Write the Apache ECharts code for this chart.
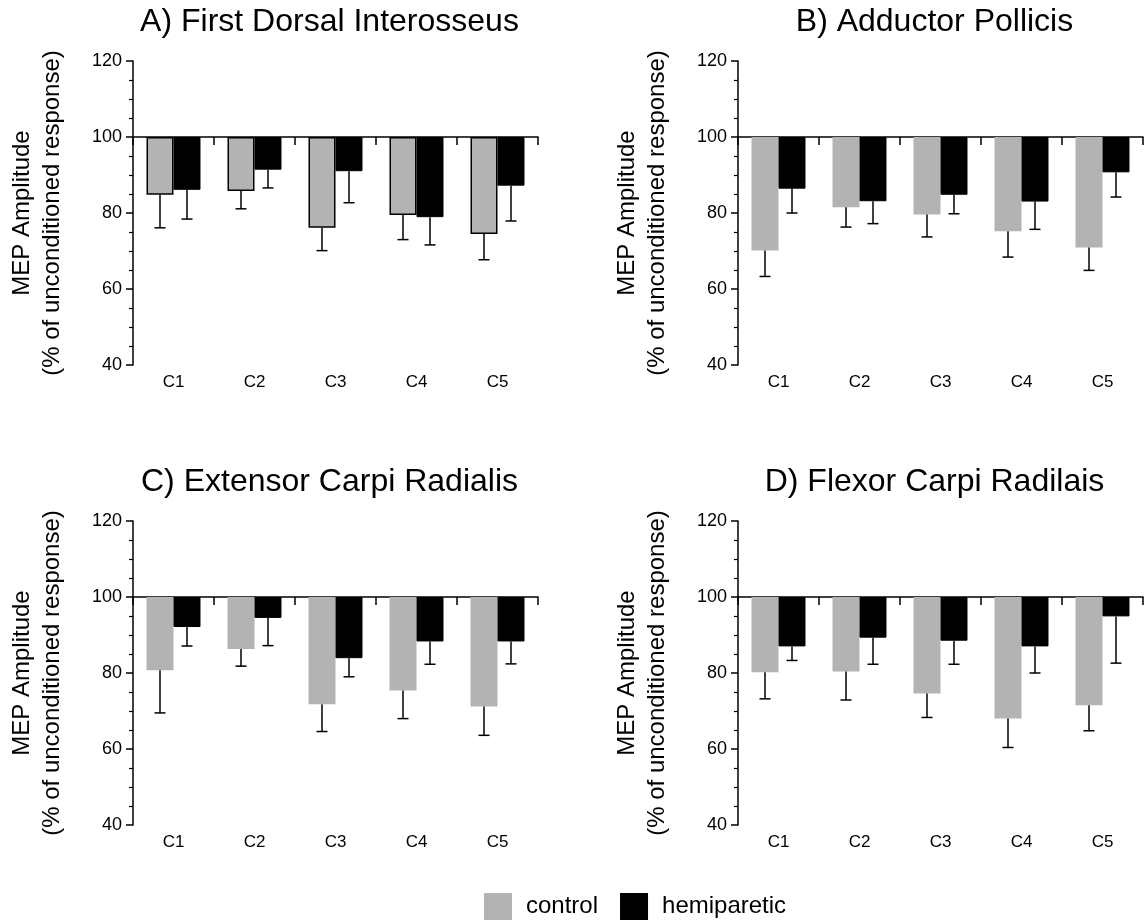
<!DOCTYPE html>
<html>
<head>
<meta charset="utf-8">
<script src="https://cdn.jsdelivr.net/npm/echarts@6/dist/echarts.min.js"></script>
<style>
  html, body { margin: 0; padding: 0; background: #fff; }
  #chart { width: 1147px; height: 920px; }
</style>
</head>
<body>
<div id="chart"></div>
<script>
// Conditioning positions
const categories = ['C1', 'C2', 'C3', 'C4', 'C5'];

// Y axis: MEP amplitude as % of the unconditioned response
const yTickLabels = [40, 60, 80, 100, 120];
const baseline = 100; // bars hang from the unconditioned level

const panelTitles = [
  'A) First Dorsal Interosseus',
  'B) Adductor Pollicis',
  'C) Extensor Carpi Radialis',
  'D) Flexor Carpi Radilais'
];

// A) First Dorsal Interosseus
const fdiControl = [84.8, 85.8, 76.1, 79.5, 74.5];
const fdiControlErr = [8.7, 4.7, 6.0, 6.5, 6.8];
const fdiHemi = [86.1, 91.4, 91.0, 78.9, 87.2];
const fdiHemiErr = [7.7, 4.8, 8.3, 7.3, 9.3];

// B) Adductor Pollicis
const apControl = [70.1, 81.5, 79.6, 75.2, 70.9];
const apControlErr = [6.8, 5.2, 5.9, 6.8, 6.0];
const apHemi = [86.4, 83.1, 84.8, 83.0, 90.7];
const apHemiErr = [6.4, 5.9, 5.0, 7.3, 6.5];

// C) Extensor Carpi Radialis
const ecrControl = [80.7, 86.3, 71.8, 75.4, 71.2];
const ecrControlErr = [11.2, 4.5, 7.2, 7.4, 7.6];
const ecrHemi = [92.1, 94.5, 83.9, 88.3, 88.3];
const ecrHemiErr = [5.0, 7.3, 4.9, 6.0, 5.9];

// D) Flexor Carpi Radialis
const fcrControl = [80.2, 80.4, 74.6, 68.0, 71.5];
const fcrControlErr = [7.0, 7.5, 6.3, 7.6, 6.7];
const fcrHemi = [87.0, 89.3, 88.5, 87.0, 94.9];
const fcrHemiErr = [3.7, 7.0, 6.2, 7.0, 12.3];

const panelData = [
  { control: fdiControl, controlErr: fdiControlErr, hemi: fdiHemi, hemiErr: fdiHemiErr, outlined: true },
  { control: apControl, controlErr: apControlErr, hemi: apHemi, hemiErr: apHemiErr, outlined: false },
  { control: ecrControl, controlErr: ecrControlErr, hemi: ecrHemi, hemiErr: ecrHemiErr, outlined: false },
  { control: fcrControl, controlErr: fcrControlErr, hemi: fcrHemi, hemiErr: fcrHemiErr, outlined: false }
];

// ---- layout & style ----
const FONT = 'Liberation Sans, Arial, Helvetica, sans-serif';
const GRAY = '#b3b3b3';
const BLACK = '#000000';
const plotW = 405, plotH = 304;
const gridPos = [
  { left: 133, top: 61 },
  { left: 738, top: 61 },
  { left: 133, top: 521 },
  { left: 738, top: 521 }
];

// Whisker drawn below the bar end (one-sided, mean - SE)
function errorBar(sign) {
  return function (params, api) {
    const cat = api.value(0);
    const end = api.value(1);
    const low = api.value(2);
    const band = api.size([1, 0])[0];
    const dx = sign * band / 6;
    const p1 = api.coord([cat, end]);
    const p2 = api.coord([cat, low]);
    const x = p1[0] + dx;
    const cap = 5.5;
    const st = { stroke: BLACK, lineWidth: 1.5 };
    return {
      type: 'group',
      children: [
        { type: 'line', shape: { x1: x, y1: p1[1], x2: x, y2: p2[1] }, style: st },
        { type: 'line', shape: { x1: x - cap, y1: p2[1], x2: x + cap, y2: p2[1] }, style: st }
      ]
    };
  };
}

const grids = [], xAxes = [], yAxes = [], series = [], titles = [];
const yMin = yTickLabels[0] - baseline;
const yMax = yTickLabels[yTickLabels.length - 1] - baseline;
const yStep = yTickLabels[1] - yTickLabels[0];

panelData.forEach((pd, i) => {
  const g = gridPos[i];
  grids.push({ left: g.left, top: g.top, width: plotW, height: plotH, containLabel: false });

  titles.push({
    text: panelTitles[i],
    left: g.left + plotW / 2 - 6,
    top: g.top - 55,
    textAlign: 'center',
    padding: 0,
    textStyle: { fontFamily: FONT, fontSize: 32, fontWeight: 'normal', color: BLACK }
  });

  // axis line at the 100 % level with boundary ticks
  xAxes.push({
    type: 'category', gridIndex: i, data: categories, position: 'bottom',
    axisLine: { onZero: true, lineStyle: { color: BLACK, width: 1.5 } },
    axisTick: { show: true, length: 8, lineStyle: { color: BLACK, width: 1.5 } },
    axisLabel: { show: false },
    splitLine: { show: false }
  });
  // category labels under the plot
  xAxes.push({
    type: 'category', gridIndex: i, data: categories, position: 'bottom',
    axisLine: { show: false, onZero: false },
    axisTick: { show: false },
    axisLabel: { show: true, margin: 9, fontFamily: FONT, fontSize: 17, color: BLACK },
    splitLine: { show: false }
  });

  yAxes.push({
    type: 'value', gridIndex: i,
    min: yMin, max: yMax, interval: yStep,
    name: 'MEP Amplitude\n(% of unconditioned response)',
    nameLocation: 'middle', nameRotate: 90, nameGap: 66,
    nameTextStyle: { fontFamily: FONT, fontSize: 24, color: BLACK, lineHeight: 30 },
    axisLine: { show: true, onZero: false, lineStyle: { color: BLACK, width: 1.5 } },
    axisTick: { show: true, length: 7, lineStyle: { color: BLACK, width: 1.5 } },
    minorTick: { show: true, splitNumber: 4, length: 4, lineStyle: { color: BLACK, width: 1.2 } },
    axisLabel: {
      margin: 11, fontFamily: FONT, fontSize: 18, color: BLACK,
      formatter: v => String(v + baseline)
    },
    splitLine: { show: false }
  });

  const xi = i * 2;
  const border = pd.outlined ? { borderColor: BLACK, borderWidth: 1.5 } : { borderWidth: 0 };
  series.push({
    name: 'control', type: 'bar', xAxisIndex: xi, yAxisIndex: i,
    barWidth: '33.33%', barGap: '0%',
    itemStyle: Object.assign({ color: GRAY }, border),
    data: pd.control.map(v => v - baseline), z: 2
  });
  series.push({
    name: 'hemiparetic', type: 'bar', xAxisIndex: xi, yAxisIndex: i,
    barWidth: '33.33%', barGap: '0%',
    itemStyle: { color: BLACK, borderColor: BLACK, borderWidth: 1 },
    data: pd.hemi.map(v => v - baseline), z: 2
  });
  series.push({
    name: 'control error', type: 'custom', xAxisIndex: xi, yAxisIndex: i,
    renderItem: errorBar(-1), z: 3,
    data: pd.control.map((v, k) => [k, v - baseline, v - pd.controlErr[k] - baseline])
  });
  series.push({
    name: 'hemiparetic error', type: 'custom', xAxisIndex: xi, yAxisIndex: i,
    renderItem: errorBar(1), z: 3,
    data: pd.hemi.map((v, k) => [k, v - baseline, v - pd.hemiErr[k] - baseline])
  });
});

const chart = echarts.init(document.getElementById('chart'), null, { renderer: 'canvas' });
chart.setOption({
  animation: false,
  backgroundColor: '#ffffff',
  title: titles,
  legend: {
    left: 479, top: 888,
    itemWidth: 28, itemHeight: 27, itemGap: 22,
    icon: 'rect',
    textStyle: { fontFamily: FONT, fontSize: 24, color: BLACK, padding: [0, 0, 0, 9] },
    data: [
      { name: 'control', itemStyle: { color: GRAY, borderWidth: 0 } },
      { name: 'hemiparetic', itemStyle: { color: BLACK, borderWidth: 0 } }
    ]
  },
  grid: grids,
  xAxis: xAxes,
  yAxis: yAxes,
  series: series
});
</script>
</body>
</html>
